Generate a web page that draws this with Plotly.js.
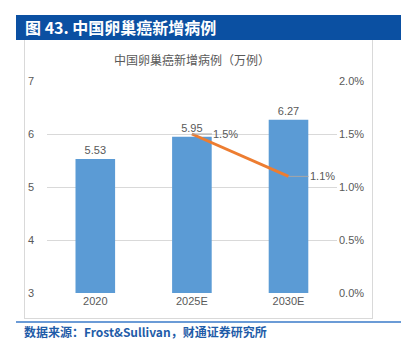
<!DOCTYPE html>
<html><head><meta charset="utf-8">
<script src="https://cdn.plot.ly/plotly-3.0.1.min.js"></script>
<style>
body{margin:0;background:#fff;width:404px;height:354px;overflow:hidden;position:relative;font-family:"Noto Sans CJK SC","Noto Sans",sans-serif;}
#hdr{position:absolute;left:16px;top:15px;width:385px;height:25px;background:#0b50a2;color:#fff;font-weight:bold;font-size:16px;line-height:25px;padding-left:9px;box-sizing:border-box;}
#box{position:absolute;left:24px;top:40px;width:349px;height:279px;border:1px solid #d9d9d9;border-top:none;box-sizing:border-box;}
#fl{position:absolute;left:16px;top:321px;width:385px;height:2px;background:#6b9bd6;}
#src{position:absolute;left:24px;top:324px;font-size:12px;font-weight:bold;color:#1f5ca8;line-height:16px;}
#chart{position:absolute;left:0;top:0;width:404px;height:354px;}
</style></head><body>
<div id="hdr">图 43. 中国卵巢癌新增病例</div>
<div id="box"></div>
<div id="fl"></div>
<div id="src">数据来源：Frost&amp;Sullivan，财通证券研究所</div>
<div id="chart"></div>
<script>
const categories = ["2020", "2025E", "2030E"];
const cases = [5.53, 5.95, 6.27];
const rateCats = ["2025E", "2030E"];
const rates = [0.015, 0.011];
const rateLabels = ["1.5%", "1.1%"];

const gray = "#595959";
const bars = {
  type: "bar", x: categories, y: cases, marker: {color: "#5b9bd5"},
  text: cases.map(v => v.toFixed(2)), textposition: "outside", cliponaxis: false,
  textfont: {color: gray, size: 11, family: "Liberation Sans, Arial"}, hoverinfo: "none"
};
const line = {
  type: "scatter", mode: "lines", x: rateCats, y: rates, yaxis: "y2",
  line: {color: "#ed7d31", width: 3}, hoverinfo: "none"
};
const annotations = rateCats.map((c, i) => ({
  x: c, y: rates[i], xref: "x", yref: "y2", text: rateLabels[i],
  showarrow: true, arrowhead: 0, arrowwidth: 1, arrowcolor: "#a6a6a6",
  ax: 34, ay: 0, standoff: 0, xanchor: "center",
  font: {color: gray, size: 11, family: "Liberation Sans, Arial"}
}));
annotations.push({
  xref: "paper", yref: "paper", x: 0.5, y: 1.0, yshift: 22, showarrow: false,
  text: "中国卵巢癌新增病例（万例）", xanchor: "center", yanchor: "middle",
  font: {color: gray, size: 12, family: "Noto Sans CJK SC"}
});
const layout = {
  width: 404, height: 354,
  margin: {l: 47, r: 67, t: 81, b: 61},
  paper_bgcolor: "rgba(0,0,0,0)", plot_bgcolor: "rgba(0,0,0,0)",
  showlegend: false, bargap: 0.59,
  font: {family: "Liberation Sans, Arial", color: gray, size: 11},
  xaxis: {type: "category", showgrid: false, zeroline: false, showline: false, ticks: "",
          tickfont: {size: 11, color: gray}},
  yaxis: {range: [3, 7], dtick: 1, showgrid: true, gridcolor: "#d9d9d9", gridwidth: 1,
          zeroline: false, showline: false, ticks: "", ticklabelstandoff: 12,
          tickfont: {size: 11, color: gray}},
  yaxis2: {overlaying: "y", side: "right", range: [0, 0.02], dtick: 0.005, tickformat: ".1%",
           showgrid: false, zeroline: false, showline: false, ticks: "", ticklabelstandoff: 1,
           tickfont: {size: 11, color: gray}},
  annotations: annotations
};
Plotly.newPlot("chart", [bars, line], layout, {displayModeBar: false, staticPlot: true});
</script>
</body></html>
